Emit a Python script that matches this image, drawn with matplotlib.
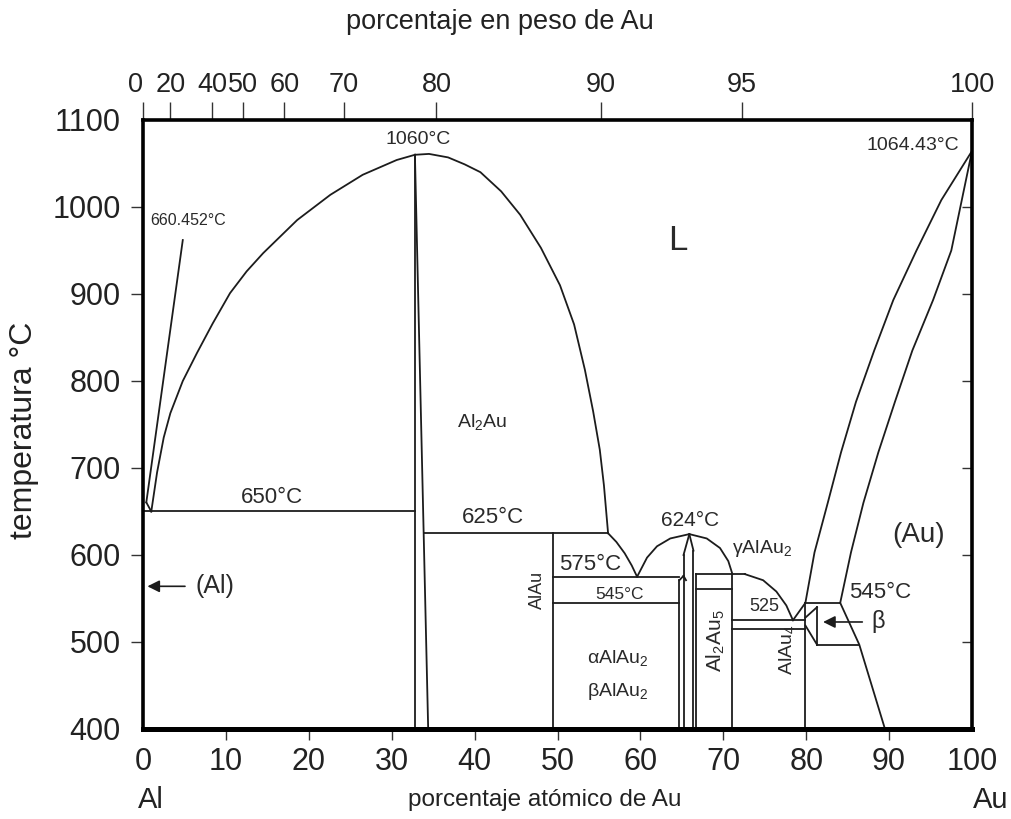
import numpy as np
import matplotlib.pyplot as plt
from matplotlib.transforms import blended_transform_factory

plt.rcParams['font.family'] = ['Liberation Sans', 'DejaVu Sans']
plt.rcParams['mathtext.fontset'] = 'custom'
plt.rcParams['mathtext.rm'] = 'Liberation Sans'
plt.rcParams['mathtext.default'] = 'regular'

# ejes
t_ticks = [400, 500, 600, 700, 800, 900, 1000, 1100]
at_ticks = [0, 10, 20, 30, 40, 50, 60, 70, 80, 90, 100]
wt_ticks = [0, 20, 40, 50, 60, 70, 80, 90, 95, 100]
M_AL, M_AU = 26.98, 196.97

# curvas del diagrama Al-Au (% atómico Au, °C)
liq_al_x = [0.4, 1.0]
liq_al_t = [660.452, 650]
guia_660_x = [4.8, 0.4]
guia_660_t = [962, 660.452]
liq_izq_x = [1.0, 1.7, 2.5, 3.3, 4.8, 6.5, 8.4, 10.5, 12.5, 14.5, 18.6, 22.6, 26.5, 30.6, 32.8]
liq_izq_t = [650, 695, 735, 763, 800, 832, 866, 901, 926, 947, 985, 1014, 1037, 1054, 1060]
liq_der_x = [32.8, 34.5, 36.8, 38.8, 40.7, 43.2, 45.5, 48.0, 50.3, 52.0, 53.3, 54.3, 55.1, 55.6, 56.1]
liq_der_t = [1060, 1061, 1057, 1049, 1040, 1018, 991, 953, 910, 865, 813, 765, 721, 680, 625]
eut575_x = [56.1, 57.1, 58.1, 58.95, 59.6]
eut575_t = [625, 615, 602, 588, 575]
domo_x = [59.6, 60.8, 62.0, 63.6, 65.9, 68.0, 69.6, 70.6, 71.1]
domo_t = [575, 597, 610, 619, 624, 619, 608, 593, 578]
gamma_x = [72.6, 74.8, 76.4, 77.6, 78.4]
gamma_t = [578, 571, 558, 542, 525]
liq_au_x = [78.4, 79.9, 81.0, 82.6, 84.2, 86.0, 88.2, 90.5, 93.3, 96.3, 100]
liq_au_t = [525, 545, 603, 660, 718, 776, 835, 893, 950, 1008, 1064.43]
sol_au_x = [84.1, 85.4, 86.9, 88.7, 90.7, 92.8, 95.3, 97.5, 100]
sol_au_t = [545, 603, 660, 718, 776, 835, 893, 950, 1064.43]
solvus_au_x = [84.1, 86.4, 89.5]
solvus_au_t = [545, 497, 400]

# segmentos rectos: (x0, x1, t0, t1)
rectas = [
    (32.8, 32.8, 1060, 400),     # Al2Au
    (32.8, 34.4, 1060, 400),
    (0.0, 32.8, 650, 650),       # eutéctico 650
    (33.85, 56.1, 625, 625),     # peritéctico 625
    (49.5, 49.5, 625, 400),      # AlAu
    (49.5, 64.7, 575, 575),
    (49.5, 64.7, 545, 545),
    (64.7, 64.7, 571, 400),
    (64.7, 65.2, 571, 576),
    (65.2, 65.5, 576, 571),
    (65.9, 65.2, 624, 600),      # AlAu2
    (65.2, 65.2, 600, 400),
    (65.9, 66.4, 624, 605),
    (66.4, 66.4, 605, 400),
    (66.7, 66.7, 578, 400),
    (66.7, 72.6, 578, 578),
    (66.7, 71.1, 561, 561),
    (71.1, 71.1, 578, 400),      # Al2Au5
    (71.1, 79.9, 525, 525),
    (71.1, 79.9, 515, 515),
    (79.9, 79.9, 545, 400),      # AlAu4
    (79.9, 84.1, 545, 545),
    (79.9, 81.3, 528, 540),      # beta
    (81.3, 81.3, 540, 497),
    (81.3, 79.9, 497, 519),
    (81.3, 86.4, 497, 497),
]

def wt_a_at(w):
    w = np.asarray(w, dtype=float)
    n_au = w / M_AU
    n_al = (100 - w) / M_AL
    return 100 * n_au / (n_au + n_al)

def at_a_wt(a):
    a = np.asarray(a, dtype=float)
    m_au = a * M_AU
    m_al = (100 - a) * M_AL
    return 100 * m_au / (m_au + m_al)

fig = plt.figure(figsize=(10.12, 8.19), dpi=100)
ax = fig.add_axes([0.1413, 0.1099, 0.8192, 0.7436])
ax.set_xlim(0, 100)
ax.set_ylim(400, 1100)

col = '#1c1c1c'
lw = 1.3
for xs, ts in [(liq_al_x, liq_al_t), (guia_660_x, guia_660_t), (liq_izq_x, liq_izq_t),
               (liq_der_x, liq_der_t), (eut575_x, eut575_t), (domo_x, domo_t),
               (gamma_x, gamma_t), (liq_au_x, liq_au_t), (sol_au_x, sol_au_t),
               (solvus_au_x, solvus_au_t)]:
    ax.plot(xs, ts, color=col, lw=lw, solid_joinstyle='round')
for x0, x1, t0, t1 in rectas:
    ax.plot([x0, x1], [t0, t1], color=col, lw=lw)

# flechas
ax.annotate('', xy=(0.2, 564), xytext=(5.4, 564),
            arrowprops=dict(arrowstyle='-|>', color=col, lw=1.2, mutation_scale=18))
ax.annotate('', xy=(81.7, 523), xytext=(87.1, 523),
            arrowprops=dict(arrowstyle='-|>', color=col, lw=1.2, mutation_scale=18))

# rótulos
tc = '#2a2a2a'
ax.text(33.2, 1077, '1060°C', fontsize=14, ha='center', va='center', color=tc)
ax.text(92.8, 1071, '1064.43°C', fontsize=14, ha='center', va='center', color=tc)
ax.text(0.9, 985, '660.452°C', fontsize=11.5, ha='left', va='center', color=tc)
ax.text(64.5, 962, 'L', fontsize=25, ha='center', va='center', color=tc)
ax.text(40.9, 753, 'Al$_2$Au', fontsize=14, ha='center', va='center', color=tc)
ax.text(15.6, 666, '650°C', fontsize=16, ha='center', va='center', color=tc)
ax.text(42.2, 643, '625°C', fontsize=16, ha='center', va='center', color=tc)
ax.text(53.9, 589, '575°C', fontsize=16, ha='center', va='center', color=tc)
ax.text(57.5, 555, '545°C', fontsize=12.5, ha='center', va='center', color=tc)
ax.text(66.0, 640, '624°C', fontsize=15, ha='center', va='center', color=tc)
ax.text(74.7, 608, 'γAlAu$_2$', fontsize=14, ha='center', va='center', color=tc)
ax.text(93.5, 623, '(Au)', fontsize=20, ha='center', va='center', color=tc)
ax.text(88.9, 557, '545°C', fontsize=16, ha='center', va='center', color=tc)
ax.text(88.7, 523, 'β', fontsize=17, ha='center', va='center', color=tc)
ax.text(75.0, 541, '525', fontsize=13, ha='center', va='center', color=tc)
ax.text(47.6, 560, 'AlAu', fontsize=13, ha='center', va='center', rotation=90, color=tc)
ax.text(57.3, 482, 'αAlAu$_2$', fontsize=14, ha='center', va='center', color=tc)
ax.text(57.3, 443, 'βAlAu$_2$', fontsize=14, ha='center', va='center', color=tc)
ax.text(69.1, 502, 'Al$_2$Au$_5$', fontsize=15, ha='center', va='center', rotation=90, color=tc)
ax.text(77.7, 491, 'AlAu$_4$', fontsize=14, ha='center', va='center', rotation=90, color=tc)
ax.text(8.7, 564, '(Al)', fontsize=18, ha='center', va='center', color=tc)

# marco
for lado in ['left', 'right', 'top']:
    ax.spines[lado].set_linewidth(2.6)
ax.spines['bottom'].set_linewidth(3.6)

# eje inferior y izquierdo
ax.set_xticks(at_ticks)
ax.set_yticks(t_ticks)
ax.tick_params(axis='both', labelsize=22, direction='out', width=1, colors='#333333',
               labelcolor='#222222')
ax.tick_params(axis='x', length=8, pad=5)
ax.tick_params(axis='y', length=9, pad=7)
for i in (0, -1):
    ax.yaxis.get_major_ticks()[i].tick1line.set_visible(False)
    ax.xaxis.get_major_ticks()[i].tick1line.set_visible(False)

ax_der = ax.secondary_yaxis('right')
ax_der.set_yticks(t_ticks[1:-1])
ax_der.tick_params(direction='in', length=7, width=1, labelright=False, colors='#333333')
ax_der.spines['right'].set_visible(False)

# eje superior en % en peso
ax_sup = ax.secondary_xaxis('top', functions=(at_a_wt, wt_a_at))
ax_sup.set_xticks(wt_ticks)
ax_sup.tick_params(direction='out', length=13, width=1, labelsize=19.5, pad=3,
                   colors='#333333', labelcolor='#222222')
ax_sup.spines['top'].set_visible(False)
ax_sup.xaxis.get_major_ticks()[0].label2.set_horizontalalignment('right')

tr = blended_transform_factory(ax.transData, ax.transAxes)
ax.text(0.9, -0.117, 'Al', fontsize=21, ha='center', va='center', transform=tr, color='#222222')
ax.text(102.2, -0.117, 'Au', fontsize=21, ha='center', va='center', transform=tr, color='#222222')
ax.text(48.5, -0.117, 'porcentaje atómico de Au', fontsize=17.5, ha='center', va='center',
        transform=tr, color='#222222')
fig.text(500 / 1012, 1 - 22 / 819, 'porcentaje en peso de Au', fontsize=19.5,
         ha='center', va='center', color='#222222')
fig.text(24 / 1012, 1 - 430 / 819, 'temperatura °C', fontsize=23, rotation=90,
         ha='center', va='center', color='#222222')

fig.savefig('out.png', dpi=100)
